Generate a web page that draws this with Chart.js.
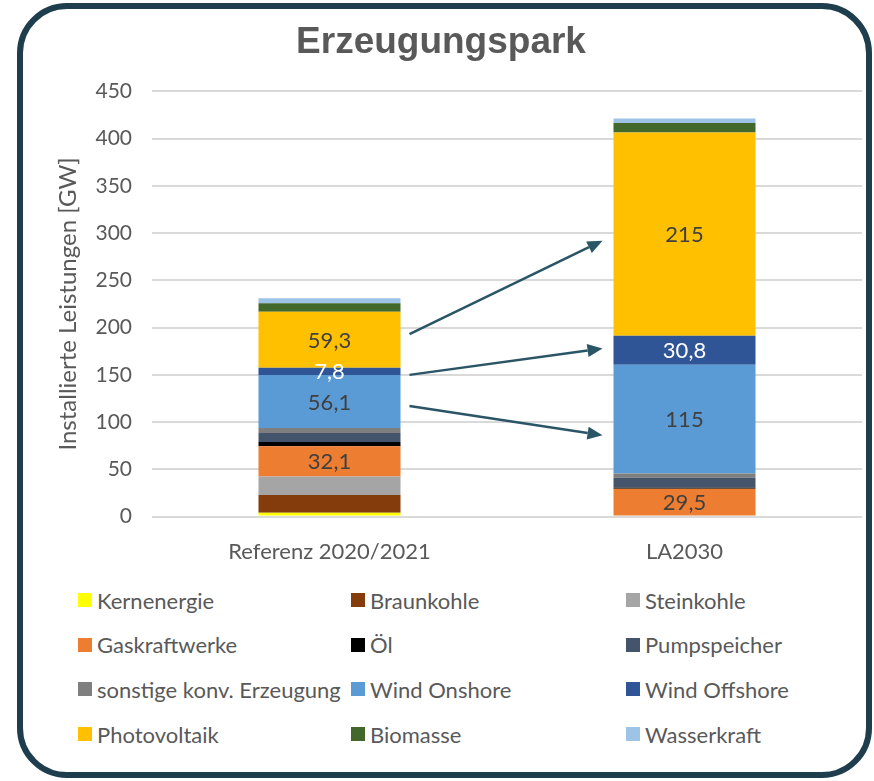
<!DOCTYPE html>
<html>
<head>
<meta charset="utf-8">
<script src="https://cdn.jsdelivr.net/npm/chart.js@4.4.1/dist/chart.umd.min.js"></script>
<style>
  html, body { margin: 0; padding: 0; background: #fff; }
  #frame {
    position: absolute; left: 17px; top: 3px; width: 843px; height: 763px;
    border: 6px solid #1e3d4d; border-radius: 50px;
  }
  #chartCanvas { position: absolute; left: 0; top: 0; }
  #legend {
    position: absolute; left: 78px; top: 585px;
    display: grid; grid-template-columns: 273px 275px 240px; grid-auto-rows: 44.7px;
    font-family: Lato, "Open Sans", sans-serif; font-size: 22px; color: #595959;
  }
  .item { display: flex; align-items: center; height: 30px; white-space: nowrap; }
  .box { width: 14px; height: 14px; margin-right: 5px; flex: none; }
</style>
</head>
<body>
<div id="frame"></div>
<canvas id="chartCanvas" width="874" height="579"></canvas>
<div id="legend"></div>
<script>
const categories = ['Referenz 2020/2021', 'LA2030'];

const kernenergie = [4.0, 0];
const braunkohle = [18.9, 0];
const steinkohle = [19.5, 0];
const gaskraftwerke = [32.1, 29.5];
const oel = [4.4, 1.0];
const pumpspeicher = [9.5, 10.5];
const sonstige = [5.3, 4.6];
const windOnshore = [56.1, 115];
const windOffshore = [7.8, 30.8];
const photovoltaik = [59.3, 215];
const biomasse = [8.9, 10.2];
const wasserkraft = [5.3, 4.7];

const yTicks = [0, 50, 100, 150, 200, 250, 300, 350, 400, 450];

// Pfeile: Wert am Start (linker Balken) -> Wert am Ziel (rechter Balken)
const arrowFrom = [193, 150, 117];
const arrowTo = [292, 178, 86];

const series = [
  { label: 'Kernenergie', data: kernenergie, color: '#ffff00' },
  { label: 'Braunkohle', data: braunkohle, color: '#843c0c' },
  { label: 'Steinkohle', data: steinkohle, color: '#a5a5a5' },
  { label: 'Gaskraftwerke', data: gaskraftwerke, color: '#ed7d31', showValue: true, valueColor: '#404040' },
  { label: 'Öl', data: oel, color: '#000000' },
  { label: 'Pumpspeicher', data: pumpspeicher, color: '#44546a' },
  { label: 'sonstige konv. Erzeugung', data: sonstige, color: '#7f7f7f' },
  { label: 'Wind Onshore', data: windOnshore, color: '#5b9bd5', showValue: true, valueColor: '#404040' },
  { label: 'Wind Offshore', data: windOffshore, color: '#2f5597', showValue: true, valueColor: '#ffffff' },
  { label: 'Photovoltaik', data: photovoltaik, color: '#ffc000', showValue: true, valueColor: '#404040' },
  { label: 'Biomasse', data: biomasse, color: '#43682b' },
  { label: 'Wasserkraft', data: wasserkraft, color: '#9dc3e6' }
];

const font = 'Lato, "Open Sans", sans-serif';

const valueLabels = {
  id: 'valueLabels',
  afterDatasetsDraw(chart) {
    const c = chart.ctx;
    c.save();
    c.font = '22px ' + font;
    c.textAlign = 'center';
    c.textBaseline = 'middle';
    chart.data.datasets.forEach((ds, i) => {
      if (!ds.showValue) return;
      chart.getDatasetMeta(i).data.forEach((bar, j) => {
        const v = ds.data[j];
        if (!v) return;
        c.fillStyle = ds.valueColor;
        c.fillText(v.toLocaleString('de-DE'), bar.x, (bar.y + bar.base) / 2 + 1);
      });
    });
    c.restore();
  }
};

const arrows = {
  id: 'arrows',
  afterDatasetsDraw(chart) {
    const c = chart.ctx;
    const y = chart.scales.y;
    const b0 = chart.getDatasetMeta(0).data[0];
    const b1 = chart.getDatasetMeta(0).data[1];
    const x0 = b0.x + b0.width / 2 + 9;
    const x1 = b1.x - b1.width / 2 - 11;
    c.save();
    c.strokeStyle = '#2a5566';
    c.fillStyle = '#2a5566';
    c.lineWidth = 2.5;
    arrowFrom.forEach((v, i) => {
      const ya = y.getPixelForValue(v);
      const yb = y.getPixelForValue(arrowTo[i]);
      const ang = Math.atan2(yb - ya, x1 - x0);
      const len = 15, half = 6.5;
      const bx = x1 - len * Math.cos(ang), by = yb - len * Math.sin(ang);
      c.beginPath();
      c.moveTo(x0, ya);
      c.lineTo(bx, by);
      c.stroke();
      c.beginPath();
      c.moveTo(x1, yb);
      c.lineTo(bx - half * Math.sin(ang), by + half * Math.cos(ang));
      c.lineTo(bx + half * Math.sin(ang), by - half * Math.cos(ang));
      c.closePath();
      c.fill();
    });
    c.restore();
  }
};

const ctx = document.getElementById('chartCanvas').getContext('2d');
const chart = new Chart(ctx, {
  type: 'bar',
  data: {
    labels: categories,
    datasets: series.map(s => ({
      label: s.label,
      data: s.data,
      backgroundColor: s.color,
      borderWidth: 0,
      showValue: s.showValue,
      valueColor: s.valueColor
    }))
  },
  options: {
    responsive: false,
    animation: false,
    layout: { padding: { left: 20, right: 12, top: 0, bottom: 0 } },
    datasets: { bar: { barPercentage: 0.4, categoryPercentage: 1 } },
    plugins: {
      legend: { display: false },
      tooltip: { enabled: false },
      title: {
        display: true,
        text: 'Erzeugungspark',
        color: '#595959',
        font: { family: '"Liberation Sans", Arial, sans-serif', size: 37, weight: 'bold' },
        padding: { top: 21, bottom: 26 }
      }
    },
    scales: {
      x: {
        stacked: true,
        grid: { display: false },
        border: { display: false },
        ticks: { color: '#595959', font: { family: font, size: 22 }, padding: 14 }
      },
      y: {
        stacked: true,
        min: 0,
        max: 450,
        afterBuildTicks: s => { s.ticks = yTicks.map(v => ({ value: v })); },
        afterFit: s => { s.width = 132; },
        grid: { color: '#d9d9d9', lineWidth: 2, drawTicks: false },
        border: { display: false },
        ticks: { color: '#595959', font: { family: font, size: 21 }, padding: 20 },
        title: {
          display: true,
          text: 'Installierte Leistungen [GW]',
          color: '#595959',
          font: { family: font, size: 24 },
          padding: { top: 34, bottom: 2 }
        }
      }
    }
  },
  plugins: [valueLabels, arrows]
});

// Legende als Raster in Spalten, wie im Original
const legendEl = document.getElementById('legend');
series.forEach(s => {
  const item = document.createElement('div');
  item.className = 'item';
  item.innerHTML = '<span class="box" style="background:' + s.color + '"></span><span>' + s.label + '</span>';
  legendEl.appendChild(item);
});
</script>
</body>
</html>
